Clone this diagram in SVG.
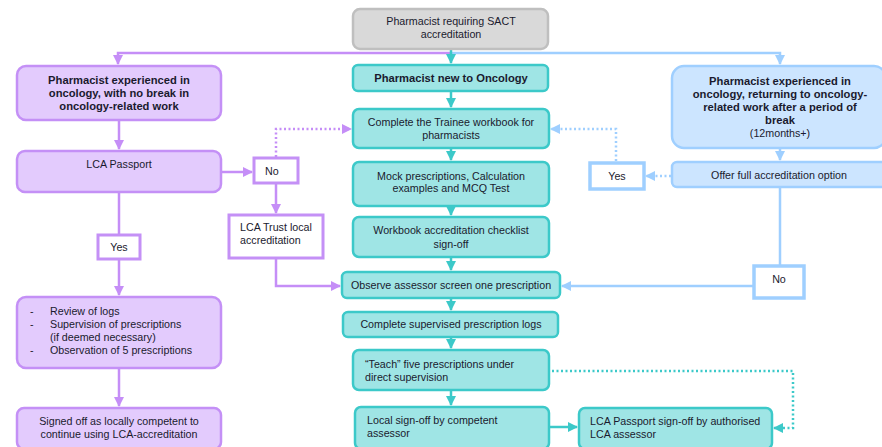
<svg xmlns="http://www.w3.org/2000/svg" width="882" height="447" viewBox="0 0 882 447">
  <style>
    text { font-family: "Liberation Sans", Arial, sans-serif; font-size: 10.7px; fill: #1a1a2e; }
    .b { font-weight: bold; font-size: 11.2px; }
    .c { text-anchor: middle; }
    .gray { fill: #d9d9d9; stroke: #bfbfbf; stroke-width: 2.5; }
    .pur { fill: #e3cbfd; stroke: #c490f6; stroke-width: 2.5; }
    .teal { fill: #9fe5e5; stroke: #3cc9c9; stroke-width: 2.5; }
    .blue { fill: #cce5ff; stroke: #9fcfff; stroke-width: 2.5; }
    .purw { fill: #ffffff; stroke: #c490f6; stroke-width: 3; }
    .bluew { fill: #ffffff; stroke: #9fcfff; stroke-width: 3.5; }
    .lp { fill: none; stroke: #c58ef7; stroke-width: 2.5; }
    .lt { fill: none; stroke: #3cc9c9; stroke-width: 2.5; }
    .lb { fill: none; stroke: #9fcfff; stroke-width: 2.5; }
    .dot { stroke-dasharray: 2 2.5; }
  </style>
  <defs>
    <marker id="ap" viewBox="0 0 10 10" refX="9" refY="5" markerWidth="4" markerHeight="4" orient="auto" markerUnits="strokeWidth">
      <path d="M0,0 L10,5 L0,10 z" fill="#c58ef7"/>
    </marker>
    <marker id="at" viewBox="0 0 10 10" refX="9" refY="5" markerWidth="4" markerHeight="4" orient="auto" markerUnits="strokeWidth">
      <path d="M0,0 L10,5 L0,10 z" fill="#3cc9c9"/>
    </marker>
    <marker id="ab" viewBox="0 0 10 10" refX="9" refY="5" markerWidth="4" markerHeight="4" orient="auto" markerUnits="strokeWidth">
      <path d="M0,0 L10,5 L0,10 z" fill="#9fcfff"/>
    </marker>
  </defs>

  <!-- connectors -->
  <g id="connectors">
    <!-- split from the top box -->
    <path class="lp" d="M451,53 H118 V64" marker-end="url(#ap)"/>
    <path class="lb" d="M451,53 H780 V64" marker-end="url(#ab)"/>
    <path class="lt" d="M451,49 V63" marker-end="url(#at)"/>

    <!-- centre column -->
    <path class="lt" d="M451,91 V107" marker-end="url(#at)"/>
    <path class="lt" d="M451,148 V160" marker-end="url(#at)"/>
    <path class="lt" d="M451,206 V215" marker-end="url(#at)"/>
    <path class="lt" d="M451,257 V270" marker-end="url(#at)"/>
    <path class="lt" d="M451,298 V310" marker-end="url(#at)"/>
    <path class="lt" d="M451,337 V348" marker-end="url(#at)"/>
    <path class="lt" d="M451,390 V405" marker-end="url(#at)"/>
    <path class="lt" d="M549,427 H577" marker-end="url(#at)"/>
    <path class="lt dot" d="M552,371 H793 V428 H774" marker-end="url(#at)"/>

    <!-- left column -->
    <path class="lp" d="M119,120 V149" marker-end="url(#ap)"/>
    <path class="lp" d="M119,192 V235"/>
    <path class="lp" d="M119,259 V295" marker-end="url(#ap)"/>
    <path class="lp" d="M119,368 V406" marker-end="url(#ap)"/>
    <path class="lp" d="M221,172 H252" marker-end="url(#ap)"/>
    <path class="lp dot" d="M276,157 V129 H351" marker-end="url(#ap)"/>
    <path class="lp" d="M276,183 V213" marker-end="url(#ap)"/>
    <path class="lp" d="M276,258 V286 H340" marker-end="url(#ap)"/>

    <!-- right column -->
    <path class="lb" d="M780,148 V160" marker-end="url(#ab)"/>
    <path class="lb dot" d="M671,176 H646" marker-end="url(#ab)"/>
    <path class="lb dot" d="M616,161 V129 H551" marker-end="url(#ab)"/>
    <path class="lb" d="M780,187 V265"/>
    <path class="lb" d="M753,286 H562" marker-end="url(#ab)"/>
  </g>

  <!-- top node -->
  <g id="start">
    <rect class="gray" x="353" y="9" width="195" height="40" rx="7"/>
    <text class="c" x="451" y="25">Pharmacist requiring SACT</text>
    <text class="c" x="451" y="38">accreditation</text>
  </g>

  <!-- centre column nodes -->
  <g id="new-to-oncology">
    <rect class="teal" x="353" y="65" width="195" height="26" rx="5"/>
    <text class="c b" x="451" y="82">Pharmacist new to Oncology</text>
  </g>
  <g id="trainee-workbook">
    <rect class="teal" x="353" y="109" width="196" height="39" rx="6"/>
    <text class="c" x="451" y="126">Complete the Trainee workbook for</text>
    <text class="c" x="451" y="139">pharmacists</text>
  </g>
  <g id="mock-prescriptions">
    <rect class="teal" x="353" y="162" width="196" height="44" rx="6"/>
    <text class="c" x="451" y="180">Mock prescriptions, Calculation</text>
    <text class="c" x="451" y="192">examples and MCQ Test</text>
  </g>
  <g id="checklist-signoff">
    <rect class="teal" x="353" y="217" width="196" height="40" rx="6"/>
    <text class="c" x="451" y="234">Workbook accreditation checklist</text>
    <text class="c" x="451" y="248">sign-off</text>
  </g>
  <g id="observe-assessor">
    <rect class="teal" x="342" y="272" width="218" height="26" rx="5"/>
    <text class="c" x="451" y="289">Observe assessor screen one prescription</text>
  </g>
  <g id="supervised-logs">
    <rect class="teal" x="343" y="312" width="215" height="25" rx="5"/>
    <text class="c" x="451" y="328">Complete supervised prescription logs</text>
  </g>
  <g id="teach-five">
    <rect class="teal" x="353" y="350" width="196" height="40" rx="6"/>
    <text x="365" y="368">“Teach” five prescriptions under</text>
    <text x="365" y="381">direct supervision</text>
  </g>
  <g id="local-signoff">
    <rect class="teal" x="355" y="407" width="194" height="42" rx="6"/>
    <text x="367" y="424">Local sign-off by competent</text>
    <text x="367" y="437">assessor</text>
  </g>
  <g id="lca-passport-signoff">
    <rect class="teal" x="579" y="408" width="193" height="41" rx="6"/>
    <text x="590" y="425">LCA Passport sign-off by authorised</text>
    <text x="590" y="438">LCA assessor</text>
  </g>

  <!-- left column nodes -->
  <g id="experienced-no-break">
    <rect class="pur" x="17" y="66" width="204" height="54" rx="9"/>
    <text class="c b" x="119" y="84">Pharmacist experienced in</text>
    <text class="c b" x="119" y="97">oncology, with no break in</text>
    <text class="c b" x="119" y="110">oncology-related work</text>
  </g>
  <g id="lca-passport">
    <rect class="pur" x="17" y="151" width="204" height="41" rx="8"/>
    <text class="c" x="119" y="168">LCA Passport</text>
  </g>
  <g id="left-no">
    <rect class="purw" x="254" y="158" width="44" height="25"/>
    <text x="265" y="175">No</text>
  </g>
  <g id="lca-trust">
    <rect class="purw" x="229" y="215" width="94" height="43"/>
    <text x="240" y="231">LCA Trust local</text>
    <text x="240" y="244">accreditation</text>
  </g>
  <g id="left-yes">
    <rect class="purw" x="98" y="235" width="42" height="24"/>
    <text class="c" x="119" y="251">Yes</text>
  </g>
  <g id="review-logs">
    <rect class="pur" x="17" y="297" width="204" height="71" rx="9"/>
    <text x="30" y="315">-</text>
    <text x="50" y="315">Review of logs</text>
    <text x="30" y="328">-</text>
    <text x="50" y="328">Supervision of prescriptions</text>
    <text x="50" y="341">(if deemed necessary)</text>
    <text x="30" y="354">-</text>
    <text x="50" y="354">Observation of 5 prescriptions</text>
  </g>
  <g id="signed-off-local">
    <rect class="pur" x="17" y="408" width="204" height="41" rx="7"/>
    <text class="c" x="119" y="425">Signed off as locally competent to</text>
    <text class="c" x="119" y="438">continue using LCA-accreditation</text>
  </g>

  <!-- right column nodes -->
  <g id="experienced-returning">
    <rect class="blue" x="672" y="66" width="214" height="82" rx="12"/>
    <text class="c b" x="780" y="85">Pharmacist experienced in</text>
    <text class="c b" x="780" y="98">oncology, returning to oncology-</text>
    <text class="c b" x="780" y="111">related work after a period of</text>
    <text class="c b" x="780" y="124">break</text>
    <text class="c" x="780" y="137">(12months+)</text>
  </g>
  <g id="full-accreditation">
    <rect class="blue" x="672" y="162" width="214" height="25" rx="5"/>
    <text class="c" x="779" y="179">Offer full accreditation option</text>
  </g>
  <g id="right-yes">
    <rect class="bluew" x="590" y="163" width="54" height="26"/>
    <text class="c" x="617" y="180">Yes</text>
  </g>
  <g id="right-no">
    <rect class="bluew" x="754" y="266" width="50" height="32"/>
    <text class="c" x="779" y="283">No</text>
  </g>
</svg>
